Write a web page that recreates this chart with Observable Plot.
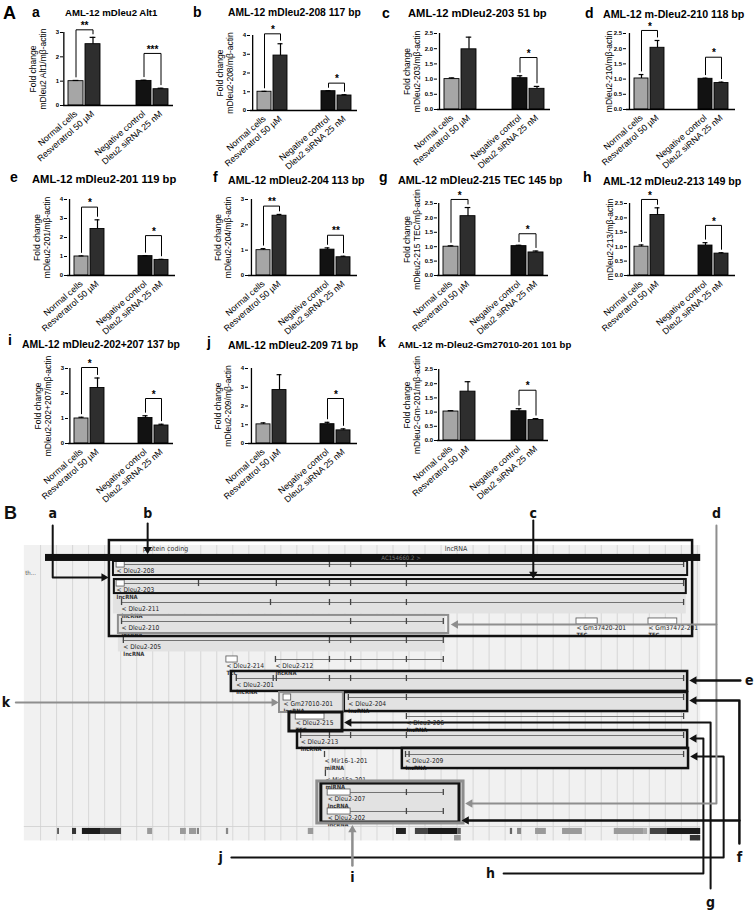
<!DOCTYPE html>
<html><head><meta charset="utf-8">
<script src="https://cdn.jsdelivr.net/npm/d3@7"></script>
<script src="https://cdn.jsdelivr.net/npm/@observablehq/plot@0.6"></script>
<style>
body{margin:0;background:#fff;}
#root{position:relative;width:756px;height:912px;overflow:hidden;font-family:"Liberation Sans",Arial,sans-serif;background:#fff;}
.abs{position:absolute;white-space:nowrap;line-height:1;}
svg{overflow:visible;}
</style></head><body><div id="root"></div>
<script>
// ---------------- Panel A data ----------------
const groups = ["Normal cells", "Resveratrol 50 µM", "Negative control", "Dleu2 siRNA 25 nM"];
const panelLetters = ["a","b","c","d","e","f","g","h","i","j","k"];
const titles = ["AML-12 mDleu2 Alt1","AML-12 mDleu2-208 117 bp","AML-12 mDleu2-203 51 bp","AML-12 m-Dleu2-210 118 bp","AML-12 mDleu2-201 119 bp","AML-12 mDleu2-204 113 bp","AML-12 mDleu2-215 TEC 145 bp","AML-12 mDleu2-213 149 bp","AML-12 mDleu2-202+207 137 bp","AML-12 mDleu2-209 71 bp","AML-12 m-Dleu2-Gm27010-201 101 bp"];
const yLabels = ["Fold change\nmDleu2 Alt1/mβ-actin","Fold change\nmDleu2-208/mβ-actin","Fold change\nmDleu2-203/mβ-actin","mDleu2-210/mβ-actin","Fold change\nmDleu2-201/mβ-actin","Fold change\nmDleu2-204/mβ-actin","Fold change\nmDleu2-215 TEC/mβ-actin","mDleu2-213/mβ-actin","Fold change\nmDleu2-202+207/mβ-actin","Fold change\nmDleu2-209/mβ-actin","Fold change\nmDleu2-Gm-201/mβ-actin"];
const yTicks = [[0,1,2,3],[0,1,2,3,4],[0,0.5,1,1.5,2,2.5],[0,0.5,1,1.5,2,2.5],[0,1,2,3,4],[0,1,2,3],[0,0.5,1,1.5,2,2.5],[0,0.5,1,1.5,2,2.5],[0,1,2,3],[0,1,2,3,4],[0,0.5,1,1.5,2,2.5]];
const means = [[1.00,2.52,1.01,0.67],[1.00,2.93,1.03,0.80],[1.00,1.98,1.03,0.68],[1.02,2.03,1.01,0.87],[1.00,2.45,1.02,0.82],[1.00,2.36,1.02,0.72],[1.00,2.06,1.02,0.80],[1.00,2.10,1.04,0.76],[1.00,2.22,1.02,0.72],[1.02,2.85,1.03,0.70],[1.02,1.72,1.03,0.72]];
const sems = [[0.03,0.28,0.03,0.04],[0.02,0.63,0.02,0.04],[0.04,0.40,0.08,0.08],[0.13,0.24,0.02,0.03],[0.03,0.48,0.02,0.03],[0.06,0.05,0.07,0.04],[0.03,0.30,0.03,0.05],[0.06,0.25,0.10,0.03],[0.05,0.40,0.09,0.05],[0.08,0.82,0.10,0.08],[0.03,0.35,0.09,0.05]];
const bracketLevels = [[3.11,2.14],[4.09,1.46],[null,1.71],[2.60,1.72],[3.60,2.10],[2.74,1.59],[2.64,1.45],[2.64,1.74],[3.04,1.80],[null,2.40],[null,1.77]];
const bracketStars = [["**","***"],["*","*"],[null,"*"],["*","*"],["*","*"],["**","**"],["*","*"],["*","*"],["*","*"],[null,"*"],[null,"*"]];

// ---------------- Panel A layout / style ----------------
const plotBox = [[63,32,110,73],[250,35,107,75],[437,33,113,76],[626,33,109,76],[67,199,108,76],[248,199,109,76],[437,203,111,72],[627,203,108,72],[68,368,105,75],[248,368,109,75],[437,369,111,71]];
const titlePos = [[65,13,9.6],[228,13,10.3],[408,14,11.2],[603,14,10.7],[32,180,11.2],[228,180,10.6],[398,180,10.8],[603,181,10.7],[22,345,10.4],[228,345,10.5],[398,345,9.6]];
const letterPos = [[37,12],[198,12],[387,13],[590,13],[15,177],[218,177],[384,177],[588,177],[13,340],[212,342],[383,342]];
const barFills = ["#a6a6a6","#2e2e2e","#121212","#2b2b2b"];
const FONT = "'Liberation Sans', Arial, sans-serif";
const xDomain = [groups[0], groups[1], "_gap1", "_gap2", groups[2], groups[3]];
const PI_ = 0.14, PO_ = 0.28;
const M = {l: 60, r: 14, t: 30, b: 70};
const root = document.getElementById("root");

function addDiv(text, x, y, size, weight, extra) {
  const d = document.createElement("div");
  d.className = "abs";
  d.textContent = text;
  d.style.left = x + "px";
  d.style.top = (y - size / 2) + "px";
  d.style.fontSize = size + "px";
  d.style.fontWeight = weight;
  if (extra) Object.assign(d.style, extra);
  root.appendChild(d);
}

function barChart(i) {
  const [px, py, pw, ph] = plotBox[i];
  const ticks = yTicks[i];
  const ymax = ticks[ticks.length - 1];
  const rows = groups.map((g, j) => ({g, v: means[i][j], e: sems[i][j]}));
  const step = pw / (xDomain.length - PI_ + 2 * PO_);
  const gap = 3.5 / ph * ymax;
  const br = [], st = [];
  bracketLevels[i].forEach((lvl, p) => {
    if (lvl == null) return;
    const a = rows[2 * p], b = rows[2 * p + 1];
    br.push({id: p, g: a.g, y: a.v + a.e + gap}, {id: p, g: a.g, y: lvl}, {id: p, g: b.g, y: lvl}, {id: p, g: b.g, y: b.v + b.e + gap});
    st.push({g: a.g, y: lvl, s: bracketStars[i][p]});
  });
  const twoLine = yLabels[i].includes("\n");
  const svg = Plot.plot({
    width: pw + M.l + M.r, height: ph + M.t + M.b,
    marginLeft: M.l, marginRight: M.r, marginTop: M.t, marginBottom: M.b,
    style: {fontFamily: FONT, background: "transparent", overflow: "visible", color: "#000"},
    x: {domain: xDomain, paddingInner: PI_, paddingOuter: PO_, axis: null},
    y: {domain: [0, ymax], axis: null},
    color: {domain: groups, range: barFills},
    marks: [
      Plot.barY(rows, {x: "g", y: "v", fill: "g", stroke: "#000", strokeWidth: 0.9}),
      Plot.ruleX(rows, {x: "g", y1: "v", y2: d => d.v + d.e, stroke: "#000", strokeWidth: 1.2}),
      Plot.tickY(rows, {x: "g", y: d => d.v + d.e, stroke: "#000", strokeWidth: 1.2, insetLeft: step * 0.27, insetRight: step * 0.27}),
      Plot.line(br, {x: "g", y: "y", z: "id", stroke: "#000", strokeWidth: 1}),
      Plot.text(st, {x: "g", y: "y", text: "s", dx: step / 2, dy: -4, fontSize: 10, fontWeight: "bold"}),
      Plot.ruleY([0], {stroke: "#000", strokeWidth: 1.3}),
      Plot.ruleX([xDomain[0]], {y1: 0, y2: ymax, dx: -(PO_ * step + (1 - PI_) * step / 2), stroke: "#000", strokeWidth: 1.3}),
      Plot.axisY({ticks: ticks, tickFormat: ymax % 1 ? d3.format(".1f") : d3.format("d"), tickSize: 3, tickPadding: 1.5, fontSize: 6, fontWeight: "bold", label: null}),
      Plot.axisX({tickRotate: -41, tickSize: 0, tickPadding: 7, fontSize: 8.8, label: null, tickFormat: d => d.startsWith("_") ? "" : d}),
      Plot.text([yLabels[i]], {frameAnchor: "left", textAnchor: "middle", rotate: -90, dx: twoLine ? -26 : -18, text: d => d, fontSize: 8.5, lineHeight: 1.25})
    ]
  });
  svg.style.position = "absolute";
  svg.style.left = (px - M.l) + "px";
  svg.style.top = (py - M.t) + "px";
  root.appendChild(svg);
  const [tx, ty, ts] = titlePos[i];
  addDiv(titles[i], tx, ty, ts, "bold");
  const [lx, ly] = letterPos[i];
  addDiv(panelLetters[i], lx - 5, ly, 14, "bold");
}
addDiv("A", 3, 13, 18, "bold");
for (let i = 0; i < titles.length; i++) barChart(i);

// ---------------- Panel B data (genomic position in kb, track row) ----------------
const txNames  = ["Dleu2-208","Dleu2-203","Dleu2-211","Dleu2-210","Dleu2-205","Dleu2-212","Dleu2-201","Dleu2-204","Dleu2-206","Dleu2-213","Dleu2-209","Dleu2-207","Dleu2-202"];
const txTypes  = ["","lncRNA","lncRNA","lncRNA","lncRNA","lncRNA","lncRNA","lncRNA","lncRNA","lncRNA","lncRNA","lncRNA","lncRNA"];
const txRows   = [0,1,2,3,4,5,6,7,8,9,10,12,13];
const txStarts = [25.8,25.8,26.9,26.9,27.3,61.1,52.4,77.3,90.2,66.7,90.0,72.7,72.7];
const txEnds   = [151.8,151.8,151.8,98.4,98.4,98.4,151.8,151.8,151.8,151.8,151.8,98.4,98.4];
const smNames  = ["Gm37420-201","Gm37472-201","Dleu2-214","Gm27010-201","Dleu2-215"];
const smTypes  = ["TEC","TEC","TEC","lncRNA","TEC"];
const smRows   = [3,3,5,7,8];
const smStarts = [128.0,144.0,50.2,62.9,65.6];
const smEnds   = [132.7,150.4,52.7,64.6,72.0];
const miNames  = ["Mir16-1-201","Mir15a-201"];
const miRows   = [10,11];
const miPos    = [72.0,72.2];
const exBoxRows = [0,1,12,13];
const exBoxStarts = [25.8,25.8,72.7,72.7];
const exBoxEnds = [27.6,27.6,77.8,77.8];
const exonTickRows = [0,1,2,3,4,5,6,7,8,9,10,12,13];
const exonTickPos = [[73.1,77.8,90.2,151.8],[44.0,61.3,73.1,77.8,90.2,151.8],[26.9,60.0,73.1,77.8,90.2,151.8],[26.9,77.8,90.2,98.4],[27.3,73.1,77.8,90.2,98.4],[61.1,73.1,77.8,90.2,98.4],[52.4,60.6,61.3,73.1,77.8,90.2,151.8],[77.3,90.2,151.8],[90.2,151.8],[66.7,73.1,77.8,90.2,151.8],[90.0,90.8,151.8],[90.2,98.4],[90.2,98.4]];
const blkStarts = [12.7,16.0,18.2,22.4,32.7,40.0,42.0,43.8,50.2,68.4,88.0,92.2,95.1,101.6,113.3,114.9,118.9,124.9,136.4,142.9,144.4,148.2,100.9,153.3];
const blkEnds   = [13.1,16.9,22.4,26.9,33.8,41.3,43.6,44.2,50.7,69.6,90.2,95.1,101.6,102.4,113.8,115.8,121.3,129.3,142.9,143.8,148.2,155.6,102.4,155.6];
const blkLine   = [0,0,0,0,0,0,0,0,0,0,0,0,0,0,0,0,0,0,0,0,0,0,1,1];
const blkShade  = ["#555","#333","#1a1a1a","#444","#9a9a9a","#9a9a9a","#9a9a9a","#777","#888","#9a9a9a","#222","#444","#1a1a1a","#666","#666","#888","#9a9a9a","#9a9a9a","#9a9a9a","#aaa","#444","#1a1a1a","#999","#333"];
// highlight boxes (kb / rows)
const hlX1 = [24.2,25.1,25.3,26.2,51.3,62.0,76.4,64.2,66.0,89.3,70.4,71.3];
const hlX2 = [153.8,152.7,152.4,99.6,152.7,76.2,152.7,76.0,152.7,152.9,102.9,102.0];
const hlY1 = [-1.26,-0.16,0.79,2.68,5.63,6.74,6.74,7.79,8.74,9.68,11.42,11.53];
const hlY2 = [3.79,0.58,1.53,3.63,6.68,7.79,7.74,8.79,9.68,10.74,13.63,13.58];
const hlTone = ["k","k","k","g","k","g","k","k","k","k","g","k"];
const hlWidth = [2.5,2,2,2,2.5,2,2.5,3,2.5,2.5,3,3];
const hlFilled = [0,0,0,0,1,1,1,1,1,1,1,1];
// annotation arrows
const arrowIds = ["a","b","c","d1","d2","e","k","f1","f2","g","h","j","i"];
const arrowTone = ["k","k","k","g","g","k","g","k","k","k","k","k","g"];
const arrowWidth = [2,2,2,2,2,2.5,2,2.5,2.5,2,2,2,2.5];
const arrowPts = [
  [[11.6,-2.05],[11.6,0.68],[24.0,0.68]],
  [[32.7,-2.16],[32.7,-0.55]],
  [[118.4,-2.32],[118.4,0.75]],
  [[159.1,-2.05],[159.1,3.16],[100.1,3.16]],
  [[159.1,3.16],[159.1,12.58],[103.3,12.58]],
  [[164.4,6.1],[153.1,6.1]],
  [[3.4,7.26],[61.8,7.26]],
  [[164.2,14.68],[164.2,7.16],[153.1,7.16]],
  [[164.2,13.47],[102.5,13.47]],
  [[157.8,17.05],[157.8,8.32],[76.4,8.32]],
  [[111.8,16.26],[156.2,16.26],[156.2,9.16],[153.1,9.16]],
  [[51.3,15.42],[160.7,15.42],[160.7,10.1],[153.3,10.1]],
  [[78.2,15.84],[78.2,13.72]]
];
const tagText = ["a","b","c","d","e","k","f","g","h","j","i"];
const tagX = [11.6,32.7,118.4,159.1,166.4,1.2,164.2,157.8,108.9,48.9,78.2];
const tagY = [-2.68,-2.68,-2.68,-2.68,6.1,7.26,15.42,17.79,16.26,15.42,16.45];
const bandX1 = [25.1,26.2], bandX2 = [152.4,98.9], bandY1 = [-0.2,2.6], bandY2 = [2.6,4.6];

// ---------------- Panel B build ----------------
const KB_PX = 4.5, ROW_PX = 19;
const BFONT = "'DejaVu Sans Condensed','DejaVu Sans',sans-serif";
const TAGFONT = "'Liberation Sans Narrow','DejaVu Sans Condensed',sans-serif";
const tone = {k: "#111", g: "#8e8e8e"};
const tx = txNames.map((n, i) => ({name: n, type: txTypes[i], row: txRows[i], start: txStarts[i], end: txEnds[i]}));
const sm = smNames.map((n, i) => ({name: n, type: smTypes[i], row: smRows[i], start: smStarts[i], end: smEnds[i]}));
const mi = miNames.map((n, i) => ({name: n, type: "miRNA", row: miRows[i], start: miPos[i]}));
const labels = [...tx, ...sm, ...mi];
const exTicks = exonTickRows.flatMap((r, i) => exonTickPos[i].map(x => ({row: r, x})));
const miTicks = mi.map(d => ({row: d.row, x: d.start}));
const exBoxes = exBoxRows.map((r, i) => ({row: r, start: exBoxStarts[i], end: exBoxEnds[i]}));
const blocks = blkStarts.map((s, i) => ({x1: s, x2: blkEnds[i], line: blkLine[i], shade: blkShade[i]}));
const hl = hlX1.map((x, i) => ({x1: x, x2: hlX2[i], y1: hlY1[i], y2: hlY2[i], tone: hlTone[i], w: hlWidth[i], filled: hlFilled[i]}));
const bands = bandX1.map((x, i) => ({x1: x, x2: bandX2[i], y1: bandY1[i], y2: bandY2[i]}));
const arrows = arrowIds.map((id, i) => ({id, tone: arrowTone[i], w: arrowWidth[i], pts: arrowPts[i]}));
const headR = 3.1;
const linePts = [], heads = [];
for (const a of arrows) {
  const n = a.pts.length;
  const [x0, y0] = a.pts[n - 2], [x1, y1] = a.pts[n - 1];
  const dxp = (x1 - x0) * KB_PX, dyp = (y1 - y0) * ROW_PX;
  const len = Math.hypot(dxp, dyp);
  const back = headR * 1.5;
  const hx = x1 - dxp / len * back / KB_PX, hy = y1 - dyp / len * back / ROW_PX;
  a.pts.forEach((p, k) => linePts.push({id: a.id, tone: a.tone, w: a.w, x: k === n - 1 ? hx : p[0], y: k === n - 1 ? hy : p[1]}));
  heads.push({x: hx, y: hy, tone: a.tone, angle: Math.atan2(dxp, -dyp) * 180 / Math.PI});
}
const tags = tagText.map((t, i) => ({t, x: tagX[i], y: tagY[i]}));

const hlMarks = [];
for (const [key, arr] of d3.groups(hl, d => d.tone + "|" + d.w)) {
  hlMarks.push(Plot.rect(arr, {x1: "x1", x2: "x2", y1: "y1", y2: "y2", fill: "none", stroke: tone[arr[0].tone], strokeWidth: arr[0].w}));
}
const arrowMarks = [];
for (const [key, arr] of d3.groups(linePts, d => d.tone + "|" + d.w)) {
  arrowMarks.push(Plot.line(arr, {x: "x", y: "y", z: "id", stroke: tone[arr[0].tone], strokeWidth: arr[0].w}));
}
for (const [t, arr] of d3.groups(heads, d => d.tone)) {
  arrowMarks.push(Plot.dot(arr, {x: "x", y: "y", symbol: "triangle", r: headR, rotate: "angle", fill: tone[t], stroke: "none"}));
}

const bsvg = Plot.plot({
  width: 756, height: 412, margin: 0,
  style: {fontFamily: BFONT, background: "transparent", overflow: "visible"},
  x: {domain: [0, 756 / KB_PX], axis: null},
  y: {domain: [-64 / ROW_PX, 348 / ROW_PX], reverse: true, axis: null},
  marks: [
    Plot.rect([{x1: 5.3, x2: 155.6, y1: -1.0, y2: 14.55}], {x1: "x1", x2: "x2", y1: "y1", y2: "y2", fill: "#f1f1f1"}),
    Plot.ruleX(d3.range(8.9, 155, 3.56), {y1: -1.0, y2: 14.55, stroke: "#d0d0d0", strokeWidth: 0.8}),
    Plot.rect(bands, {x1: "x1", x2: "x2", y1: "y1", y2: "y2", fill: "#e2e2e2"}),
    Plot.rect(hl.filter(d => d.filled), {x1: "x1", x2: "x2", y1: "y1", y2: "y2", fill: "#e2e2e2"}),
    Plot.rect([{x1: 10, x2: 155.6, y1: -0.53, y2: -0.16}], {x1: "x1", x2: "x2", y1: "y1", y2: "y2", fill: "#111"}),
    Plot.text(["AC154660.2 >"], {x: 89, y: -0.35, text: d => d, fill: "#7a7a7a", fontSize: 6}),
    Plot.text(["protein coding", "lncRNA"], {x: (d, i) => [31.6, 98.7][i], y: -0.84, text: d => d, textAnchor: "start", fontSize: 7, fill: "#333"}),
    Plot.text(["th..."], {x: 5.5, y: 0.47, text: d => d, textAnchor: "start", fontSize: 6, fill: "#555"}),
    Plot.ruleY(tx, {y: "row", x1: "start", x2: "end", stroke: "#666", strokeWidth: 0.9}),
    Plot.ruleX([...exTicks, ...miTicks], {x: "x", y1: d => d.row - 0.16, y2: d => d.row + 0.16, stroke: "#444", strokeWidth: 1.3}),
    Plot.rect([...exBoxes, ...sm], {x1: "start", x2: "end", y1: d => d.row - 0.16, y2: d => d.row + 0.16, fill: "#fff", stroke: "#555", strokeWidth: 0.8}),
    Plot.text(labels, {x: "start", y: d => d.row + 0.36, text: d => "< " + d.name, textAnchor: "start", fontSize: 6.6, fill: "#222"}),
    Plot.text(labels.filter(d => d.type), {x: "start", y: d => d.row + 0.7, text: "type", textAnchor: "start", fontSize: 5.8, fontWeight: "bold", fill: "#333"}),
    Plot.ruleY([13.79], {x1: 5.3, x2: 155.6, stroke: "#cfcfcf", strokeWidth: 0.8}),
    Plot.rect(blocks, {x1: "x1", x2: "x2", y1: d => d.line ? 14.26 : 13.89, y2: d => d.line ? 14.55 : 14.21, fill: d => d.shade}),
    ...hlMarks,
    ...arrowMarks,
    Plot.text(tags, {x: "x", y: "y", text: "t", fontSize: 14, fontWeight: "bold", fontFamily: TAGFONT, fill: "#111"}),
    Plot.text(["B"], {x: 2.2, y: -2.68, text: d => d, fontSize: 18, fontWeight: "bold", fontFamily: "'Liberation Sans',Arial,sans-serif", fill: "#111"})
  ]
});
bsvg.style.position = "absolute";
bsvg.style.left = "0px";
bsvg.style.top = "500px";
root.appendChild(bsvg);
</script></body></html>
